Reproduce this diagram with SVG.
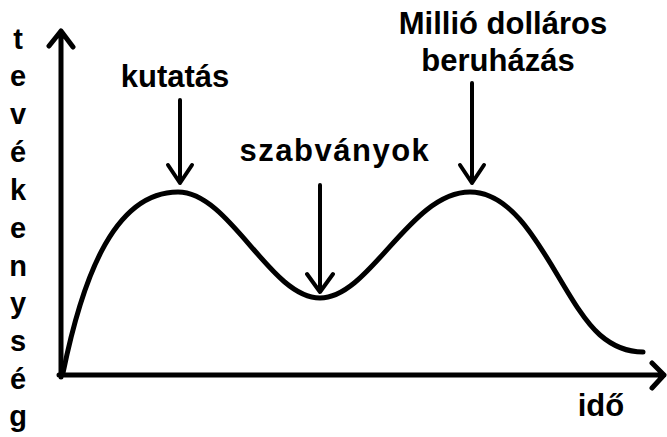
<svg xmlns="http://www.w3.org/2000/svg" width="667" height="437" viewBox="0 0 667 437">
<style>
.t{font-family:"Liberation Sans",Arial,sans-serif;font-weight:bold;font-size:31px;fill:#000}
.v{font-family:"Liberation Sans",Arial,sans-serif;font-weight:bold;font-size:29px;fill:#000;text-anchor:middle}
.ln{fill:none;stroke:#000;stroke-width:5;stroke-linecap:round;stroke-linejoin:round}
.ar{fill:none;stroke:#000;stroke-width:4;stroke-linecap:round;stroke-linejoin:round}
</style>
<rect width="667" height="437" fill="#fff"/>
<g id="axes">
<path class="ln" d="M61,377 V31 M49,46 L61,31 L73,47"/>
<path class="ln" d="M59,375 H664 M652,363 L664,375 L652,388"/>
</g>
<g id="ylabel">
<text class="v" x="18" y="49">t</text>
<text class="v" x="18" y="86">e</text>
<text class="v" x="18" y="124">v</text>
<text class="v" x="18" y="162">é</text>
<text class="v" x="18" y="200">k</text>
<text class="v" x="18" y="238">e</text>
<text class="v" x="18" y="276">n</text>
<text class="v" x="18" y="313">y</text>
<text class="v" x="18" y="351">s</text>
<text class="v" x="18" y="389">é</text>
<text class="v" x="18" y="426">g</text>
</g>
<g id="xlabel"><text class="t" x="601" y="416" text-anchor="middle">idő</text></g>
<g id="curve">
<path class="ln" d="M63,373 C80,290 110,192 178,192 C230,192 270,298 320,298 C370,298 410,192 470,192 C530,192 560,300 600,335 C615,348 630,352 643,352"/>
</g>
<g id="kutatas">
<text class="t" x="175" y="87" text-anchor="middle">kutatás</text>
</g>
<g id="szabvanyok">
<text class="t" x="335" y="161" text-anchor="middle" style="letter-spacing:1.5px">szabványok</text>
</g>
<g id="beruhazas">
<text class="t" x="503" y="34" text-anchor="middle">Millió dolláros</text>
<text class="t" x="498" y="71" text-anchor="middle">beruházás</text>
</g>
<g id="connectors">
<path class="ar" d="M180,100 V183 M168,165 L180,183 L192,165"/>
<path class="ar" d="M320,185 V292 M307,274 L320,292 L333,274"/>
<path class="ar" d="M472,83 V183 M460,165 L472,183 L484,165"/>
</g>
</svg>
